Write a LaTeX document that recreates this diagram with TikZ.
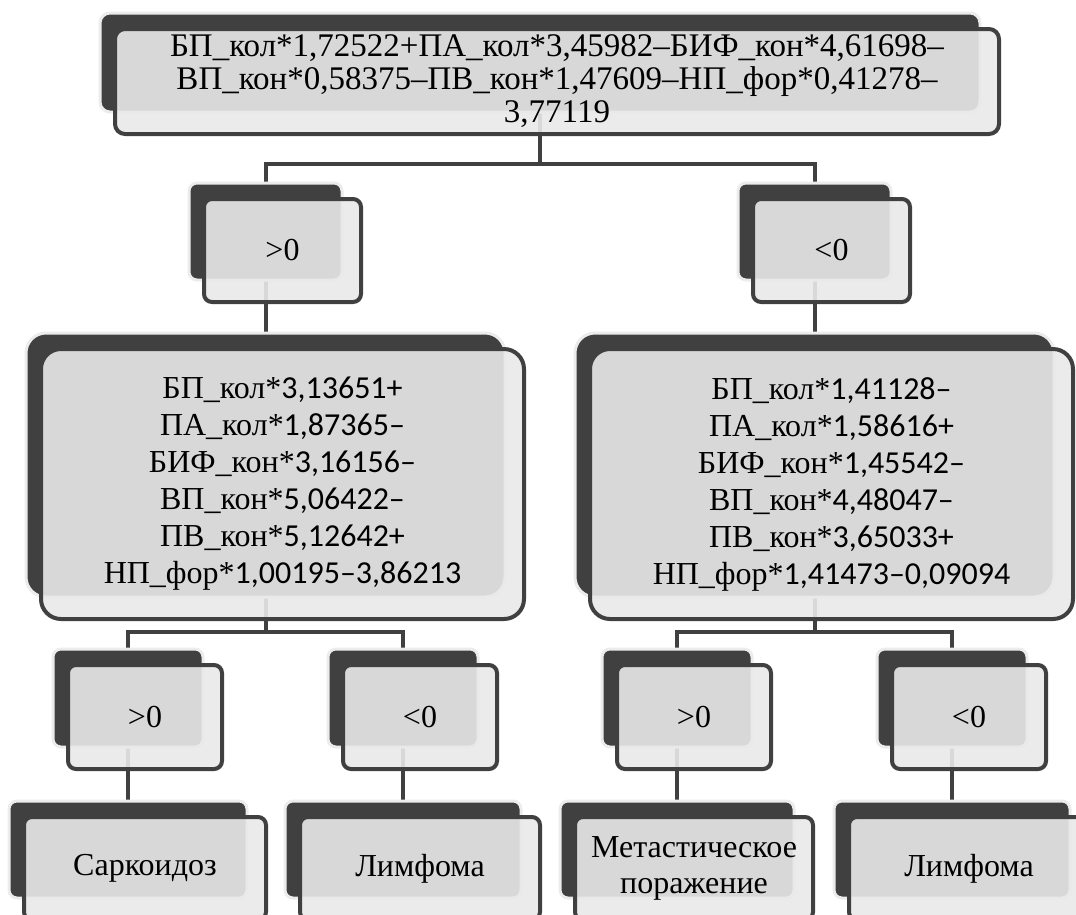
\documentclass[tikz,border=0pt]{standalone}
\usepackage{fontspec}
\setmainfont{Liberation Serif}
\newfontfamily\calib{Carlito}
\usepackage{tikz}
\usetikzlibrary{backgrounds}
\definecolor{fonce}{HTML}{404040}
\definecolor{clair}{HTML}{E9E9E9}
\definecolor{halo}{HTML}{ECECEC}
\tikzset{
	arriere/.style={fill=fonce, draw=halo, line width=3pt, rounded corners=8pt, inner sep=0pt, outer sep=0pt},
	avant/.style={fill=clair, fill opacity=0.9, text opacity=1, draw=fonce, line width=4pt, rounded corners=8pt,
		inner sep=0pt, outer sep=0pt, align=center, font=\fontsize{32}{36}\selectfont},
	lien/.style={draw=fonce, line width=4pt},
	grand/.style={rounded corners=20pt, font=\fontsize{32}{37}\selectfont},
}
% #2 nom, #3 #4 coin haut gauche du fond, #5 #6 taille, #7 texte
\newcommand{\bloc}[7][]{%
	\node[arriere, #1, anchor=north west, minimum width=#5pt, minimum height=#6pt] (#2b) at (#3,#4) {};
	\node[avant, #1, anchor=north west, minimum width=#5pt+4pt, minimum height=#6pt+6pt] (#2) at (#3+15,#4+16) {#7};
}

\begin{document}
\begin{tikzpicture}[x=1pt, y=-1pt]
	\useasboundingbox (0,0) rectangle (1076,914);
	\clip (0,0) rectangle (1076,914);
	%\draw[step=50pt, black!20] (0,0) grid (1076,914);
	\bloc[rounded corners=10pt, font=\fontsize{33}{33}\selectfont]{haut}{100}{13}{880}{99}{БП\_кол*1,72522+ПА\_кол*3,45982–БИФ\_кон*4,61698–\\ВП\_кон*0,58375–ПВ\_кон*1,47609–НП\_фор*0,41278–\\3,77119}
	\bloc{gp}{189}{183}{153}{97}{>0}
	\bloc{gn}{738}{183}{153}{97}{<0}
	\bloc[grand]{gauche}{26}{333}{479}{264}{БП\_кол*{\calib 3,13651+}\\ПА\_кол*{\calib 1,87365–}\\БИФ\_кон*{\calib 3,16156–}\\ВП\_кон*{\calib 5,06422–}\\ПВ\_кон*{\calib 5,12642+}\\НП\_фор*{\calib 1,00195–3,86213}}
	\bloc[grand]{droite}{575}{333}{479}{264}{БП\_кол*{\calib 1,41128–}\\ПА\_кол*{\calib 1,58616+}\\БИФ\_кон*{\calib 1,45542–}\\ВП\_кон*{\calib 4,48047–}\\ПВ\_кон*{\calib 3,65033+}\\НП\_фор*{\calib 1,41473–0,09094}}
	\bloc{ap}{53}{649}{150}{98}{>0}
	\bloc{an}{328}{649}{150}{98}{<0}
	\bloc{bp}{602}{649}{150}{98}{>0}
	\bloc{bn}{877}{649}{150}{98}{<0}
	\bloc{sarc}{9}{801}{238}{97}{Саркоидоз}
	\bloc{lymA}{285}{801}{236}{97}{Лимфома}
	\bloc{meta}{560}{801}{234}{97}{\raisebox{-8pt}{\begin{tabular}{@{}c@{}}Метастическое\\поражение\end{tabular}}}
	\bloc{lymB}{834}{801}{236}{97}{Лимфома}
	% liaisons derriere les blocs
	\begin{scope}[on background layer]
		\draw[lien] (hautb.center) -- (hautb.center |- 0,164) -| (gpb.north);
		\draw[lien] (hautb.center) -- (hautb.center |- 0,164) -| (gnb.north);
		\draw[lien] (gpb.center) -- (gpb.center |- gaucheb.north);
		\draw[lien] (gnb.center) -- (gnb.center |- droiteb.north);
		\draw[lien] (gaucheb.center) -- (gaucheb.center |- 0,632) -| (apb.north);
		\draw[lien] (gaucheb.center) -- (gaucheb.center |- 0,632) -| (anb.north);
		\draw[lien] (droiteb.center) -- (droiteb.center |- 0,632) -| (bpb.north);
		\draw[lien] (droiteb.center) -- (droiteb.center |- 0,632) -| (bnb.north);
		\draw[lien] (apb.center) -- (apb.center |- sarcb.north);
		\draw[lien] (anb.center) -- (anb.center |- lymAb.north);
		\draw[lien] (bpb.center) -- (bpb.center |- metab.north);
		\draw[lien] (bnb.center) -- (bnb.center |- lymBb.north);
	\end{scope}
\end{tikzpicture}
\end{document}
